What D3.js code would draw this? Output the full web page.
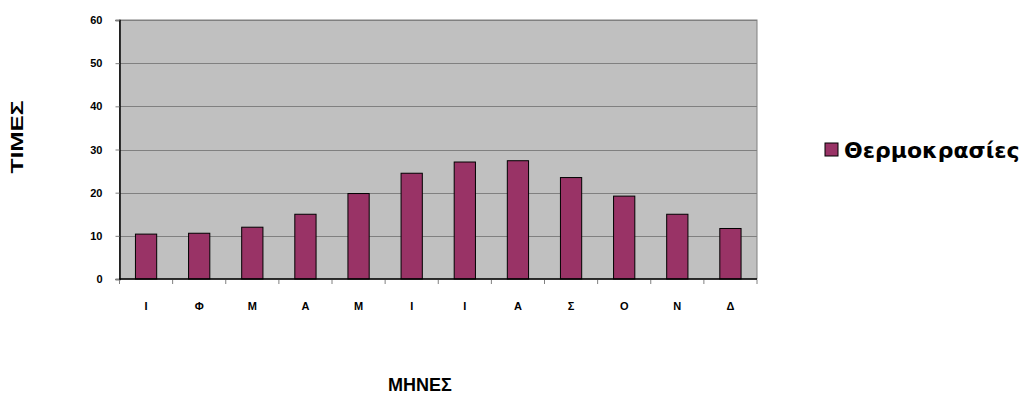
<!DOCTYPE html>
<html>
<head>
<meta charset="utf-8">
<script src="https://cdn.jsdelivr.net/npm/d3@7"></script>
<style>
  body { margin: 0; background: #fff; }
  text { font-family: Arial, "Liberation Sans", sans-serif; font-weight: bold; }
</style>
</head>
<body>
<div id="chart"></div>
<script>
// months (Greek initials) and temperatures
var months = ["Ι", "Φ", "Μ", "Α", "Μ", "Ι", "Ι", "Α", "Σ", "Ο", "Ν", "Δ"];
var temps = [10.4, 10.6, 12.0, 15.0, 19.8, 24.5, 27.1, 27.4, 23.5, 19.2, 15.0, 11.7];
var yTicks = [0, 10, 20, 30, 40, 50, 60];
var seriesName = "Θερμοκρασίες";

var W = 1027, H = 396;
var margin = { top: 20, right: 270, bottom: 117, left: 119.5 };
var width = W - margin.left - margin.right,
  height = H - margin.top - margin.bottom;

var svg = d3.select("#chart").append("svg")
  .attr("width", W).attr("height", H);

var g = svg.append("g")
  .attr("transform", "translate(" + margin.left + "," + margin.top + ")");

var idx = months.map(function (d, i) { return i; });
var x = d3.scaleBand().domain(idx).range([0, width]).paddingInner(0).paddingOuter(0);
var y = d3.scaleLinear().domain([0, 60]).range([height, 0]);

// plot background
g.append("rect")
  .attr("width", width).attr("height", height)
  .attr("fill", "#c0c0c0")
  .attr("stroke", "#808080");

// gridlines
g.selectAll(".grid").data(yTicks.slice(1)).enter()
  .append("line")
  .attr("x1", 0).attr("x2", width)
  .attr("y1", function (d) { return Math.round(y(d)) + 0.5; })
  .attr("y2", function (d) { return Math.round(y(d)) + 0.5; })
  .attr("stroke", "#808080");

// bars
var bw = x.bandwidth() * 0.4;
g.selectAll(".bar").data(temps).enter()
  .append("rect")
  .attr("x", function (d, i) { return x(i) + (x.bandwidth() - bw) / 2; })
  .attr("y", function (d) { return y(d); })
  .attr("width", bw)
  .attr("height", function (d) { return height - y(d); })
  .attr("fill", "#993366")
  .attr("stroke", "#000")
  .attr("stroke-width", 1);

// y axis
var yAxis = g.append("g")
  .call(d3.axisLeft(y).tickValues(yTicks).tickSize(4).tickPadding(13));
yAxis.select(".domain").attr("stroke", "#000").attr("stroke-width", 1.5);
yAxis.selectAll(".tick line").attr("stroke", "#808080");
yAxis.selectAll(".tick text").style("font-size", "11px").attr("fill", "#000");

// x axis: ticks at band boundaries
var xg = g.append("g").attr("transform", "translate(0," + height + ")");
xg.append("line").attr("x1", 0).attr("x2", width)
  .attr("stroke", "#000").attr("stroke-width", 1.5);
xg.selectAll(".xt").data(d3.range(months.length + 1)).enter()
  .append("line")
  .attr("x1", function (d) { return d * x.step(); })
  .attr("x2", function (d) { return d * x.step(); })
  .attr("y1", 1).attr("y2", 5)
  .attr("stroke", "#808080");
xg.selectAll(".xl").data(months).enter()
  .append("text")
  .attr("x", function (d, i) { return x(i) + x.bandwidth() / 2; })
  .attr("y", 31)
  .attr("text-anchor", "middle")
  .style("font-size", "11px")
  .text(function (d) { return d; });

// axis titles
svg.append("text")
  .attr("transform", "translate(23,137) rotate(-90)")
  .attr("text-anchor", "middle")
  .attr("textLength", 73)
  .attr("lengthAdjust", "spacingAndGlyphs")
  .style("font-size", "16px")
  .text("ΤΙΜΕΣ");

svg.append("text")
  .attr("x", 420).attr("y", 391)
  .attr("text-anchor", "middle")
  .style("font-size", "18px")
  .text("ΜΗΝΕΣ");

// legend
var lg = svg.append("g").attr("transform", "translate(825,143)");
lg.append("rect").attr("width", 13).attr("height", 13)
  .attr("fill", "#993366").attr("stroke", "#000");
lg.append("text").attr("x", 19).attr("y", 15)
  .style("font-family", "'DejaVu Sans', Verdana, sans-serif")
  .style("font-size", "22px")
  .text(seriesName);
</script>
</body>
</html>
